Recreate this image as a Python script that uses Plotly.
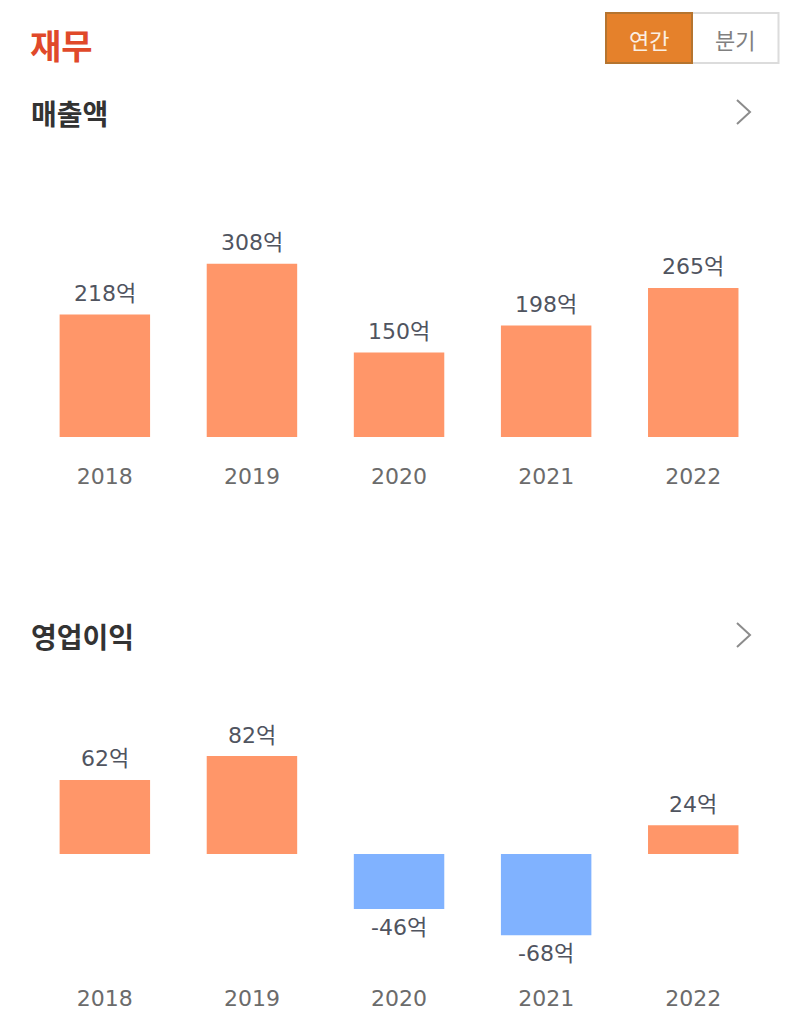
import plotly.graph_objects as go
from plotly.subplots import make_subplots

# 재무 차트 데이터
years = ["2018", "2019", "2020", "2021", "2022"]
revenue = [218, 308, 150, 198, 265]
op_profit = [62, 82, -46, -68, 24]

W, H = 800, 1021
POS_COLOR = "#FF9669"
NEG_COLOR = "#80B2FF"
FONT = "DejaVu Sans, Noto Sans CJK KR, sans-serif"
KR_FONT = "Noto Sans CJK KR, sans-serif"


def px_x(v):
    return v / W


def px_y(v):
    return 1 - v / H


def bar_trace(values):
    return go.Bar(
        x=years,
        y=values,
        width=0.615,
        marker=dict(color=[POS_COLOR if v >= 0 else NEG_COLOR for v in values], line_width=0),
        hoverinfo="skip",
    )


fig = make_subplots(rows=2, cols=1)
fig.add_trace(bar_trace(revenue), row=1, col=1)
fig.add_trace(bar_trace(op_profit), row=2, col=1)

# 값 라벨은 막대 끝에서 조금 띄운다 (카테고리 축이라 x는 인덱스로)
for values, xref, yref in ((revenue, "x", "y"), (op_profit, "x2", "y2")):
    for i, v in enumerate(values):
        fig.add_annotation(
            xref=xref, yref=yref, x=i, y=v,
            text=f"{v}억", showarrow=False,
            xanchor="center", yanchor="middle",
            yshift=21 if v >= 0 else -18,
            font=dict(family=FONT, size=22, color="#50545F"),
        )

axis_x = dict(
    type="category",
    range=[-0.5, 4.5],
    domain=[px_x(31.3), px_x(766.8)],
    showgrid=False,
    zeroline=False,
    showline=False,
    ticks="",
    tickfont=dict(family=FONT, size=22, color="#6B6B6B"),
    fixedrange=True,
)
axis_y = dict(visible=False, showgrid=False, zeroline=False, fixedrange=True)

fig.update_layout(
    width=W,
    height=H,
    margin=dict(l=0, r=0, t=0, b=0),
    paper_bgcolor="white",
    plot_bgcolor="white",
    showlegend=False,
    xaxis=axis_x,
    xaxis2=axis_x,
    yaxis=dict(axis_y, domain=[px_y(461), px_y(170)], range=[-42.7, 474.7]),
    yaxis2=dict(axis_y, domain=[px_y(983), px_y(700)], range=[-107.9, 128.9]),
)


def label(text, x, y, size, color, bold=False, anchor="left"):
    fig.add_annotation(
        xref="paper", yref="paper", x=px_x(x), y=px_y(y),
        text=f"<b>{text}</b>" if bold else text,
        showarrow=False, xanchor=anchor, yanchor="middle",
        font=dict(family=KR_FONT, size=size, color=color),
    )


# 헤더 / 섹션 제목
label("재무", 28, 44, 34, "#E0492A", bold=True)
label("매출액", 28.5, 113, 28, "#333333", bold=True)
label("영업이익", 28.5, 636, 28, "#333333", bold=True)

# 연간 / 분기 토글
fig.add_shape(type="rect", xref="paper", yref="paper", x0=px_x(692), x1=px_x(778.5), y0=px_y(63), y1=px_y(13),
              fillcolor="white", line=dict(color="#DCDCDC", width=2))
fig.add_shape(type="rect", xref="paper", yref="paper", x0=px_x(606), x1=px_x(692), y0=px_y(63), y1=px_y(13),
              fillcolor="#E5812B", line=dict(color="#B5742F", width=2))
label("연간", 649, 39, 22, "#FBEFE3", anchor="center")
label("분기", 735, 39, 22, "#808080", anchor="center")

# 화살표
for cy in (112, 635):
    fig.add_shape(type="path", xref="paper", yref="paper",
                  path=f"M {px_x(737)} {px_y(cy - 12)} L {px_x(750)} {px_y(cy)} L {px_x(737)} {px_y(cy + 12)}",
                  line=dict(color="#8C8C8C", width=2))

fig.write_html(
    "out.html",
    config=dict(displayModeBar=False),
    post_script="document.body.style.margin='0';document.body.style.overflow='hidden';",
)
